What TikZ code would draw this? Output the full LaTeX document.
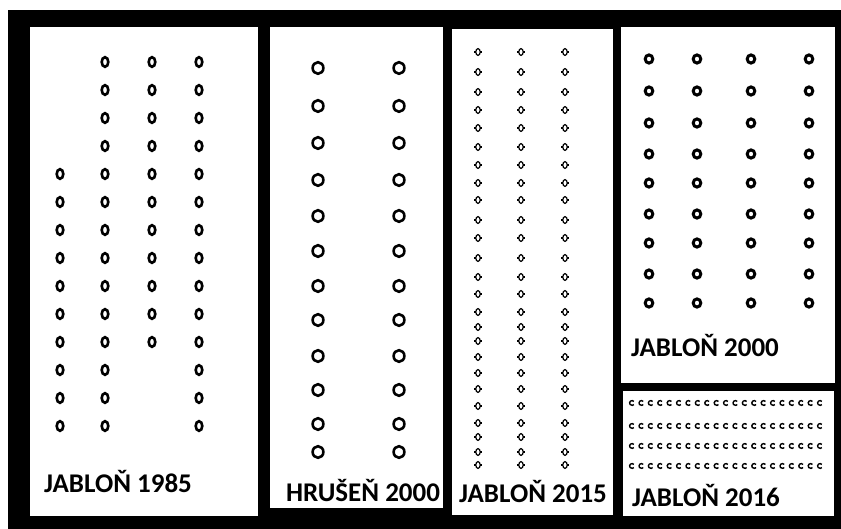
\documentclass[tikz,border=0pt]{standalone}
\usepackage{fontspec}
\setmainfont{Carlito}
\usetikzlibrary{positioning}

\begin{document}
\begin{tikzpicture}[
      x=1pt,
      y=-1pt,
      panel/.style={fill=white},
      cropname/.style={anchor=base west, inner sep=0pt, text=black,
        font=\bfseries\fontsize{27}{31}\selectfont},
      tree85/.style={line width=2.6pt},
      tree00/.style={line width=2.6pt},
      tree15/.style={line width=1.2pt},
      treeja/.style={line width=3pt},
      tree16/.style={line width=1.4pt}
  ]
    % frame and plots
    \fill[white] (0,0) rectangle (841,529);
    \useasboundingbox (0,0) rectangle (841,529);
    \fill[black] (8,10) rectangle (841,529);
    \fill[panel] (30,27) rectangle (258,516);
    \fill[panel] (270,27) rectangle (443,508);
    \fill[panel] (452,29) rectangle (613,515);
    \fill[panel] (621,27) rectangle (835,383);
    \fill[panel] (623,391) rectangle (834,516);

    % JABLOŇ 1985
    \foreach \x/\from/\to in {60/5/14, 105/1/14, 152/1/11, 199/1/14}
      \foreach \i in {\from,...,\to}
        \draw[tree85] (\x,{34+28*\i}) ellipse [x radius=3.3pt, y radius=4.8pt];
    \node[cropname] (j85) at (44,492) {JABLOŇ 1985};

    % HRUŠEŇ 2000
    \foreach \y in {68,106,143,180,216,251,286,320,356,390,424,452}
      \foreach \x in {318,399}
        \draw[tree00] (\x,\y) ellipse [x radius=5.4pt, y radius=5.8pt];
    \node[cropname] (h00) at (286,501) {HRUŠEŇ 2000};

    % JABLOŇ 2015
    \foreach \y in {52,72,92,110,128,147,165,183,200,220,238,258,277,
                    294,312,327,341,357,373,389,406,423,437,452,465}
      \foreach \x in {478,521,565} {
        \draw[tree15] (\x,\y) ellipse [x radius=2.2pt, y radius=3.4pt];
        \draw[tree15] (\x-3.6,\y) -- ++(1.2,0) (\x+2.4,\y) -- ++(1.2,0);
      }
    \node[cropname] (j15) at (459,502) {JABLOŇ 2015};

    % JABLOŇ 2000
    \foreach \y in {59,91,123,154,183,214,243,274,303}
      \foreach \x in {649,697,751,809}
        \draw[treeja] (\x,\y) ellipse [x radius=3.8pt, y radius=4.1pt];
    \node[cropname] (j00) at (631,357) {JABLOŇ 2000};

    % JABLOŇ 2016
    \foreach \y in {403,426,446,466}
      \foreach \i in {0,...,20}
        \draw[tree16] ({632+9.4*\i},\y) ++(40:2.4pt)
          arc [start angle=40, end angle=320, radius=2.4pt];
    \node[cropname] (j16) at (632,506) {JABLOŇ 2016};
  \end{tikzpicture}
\end{document}
